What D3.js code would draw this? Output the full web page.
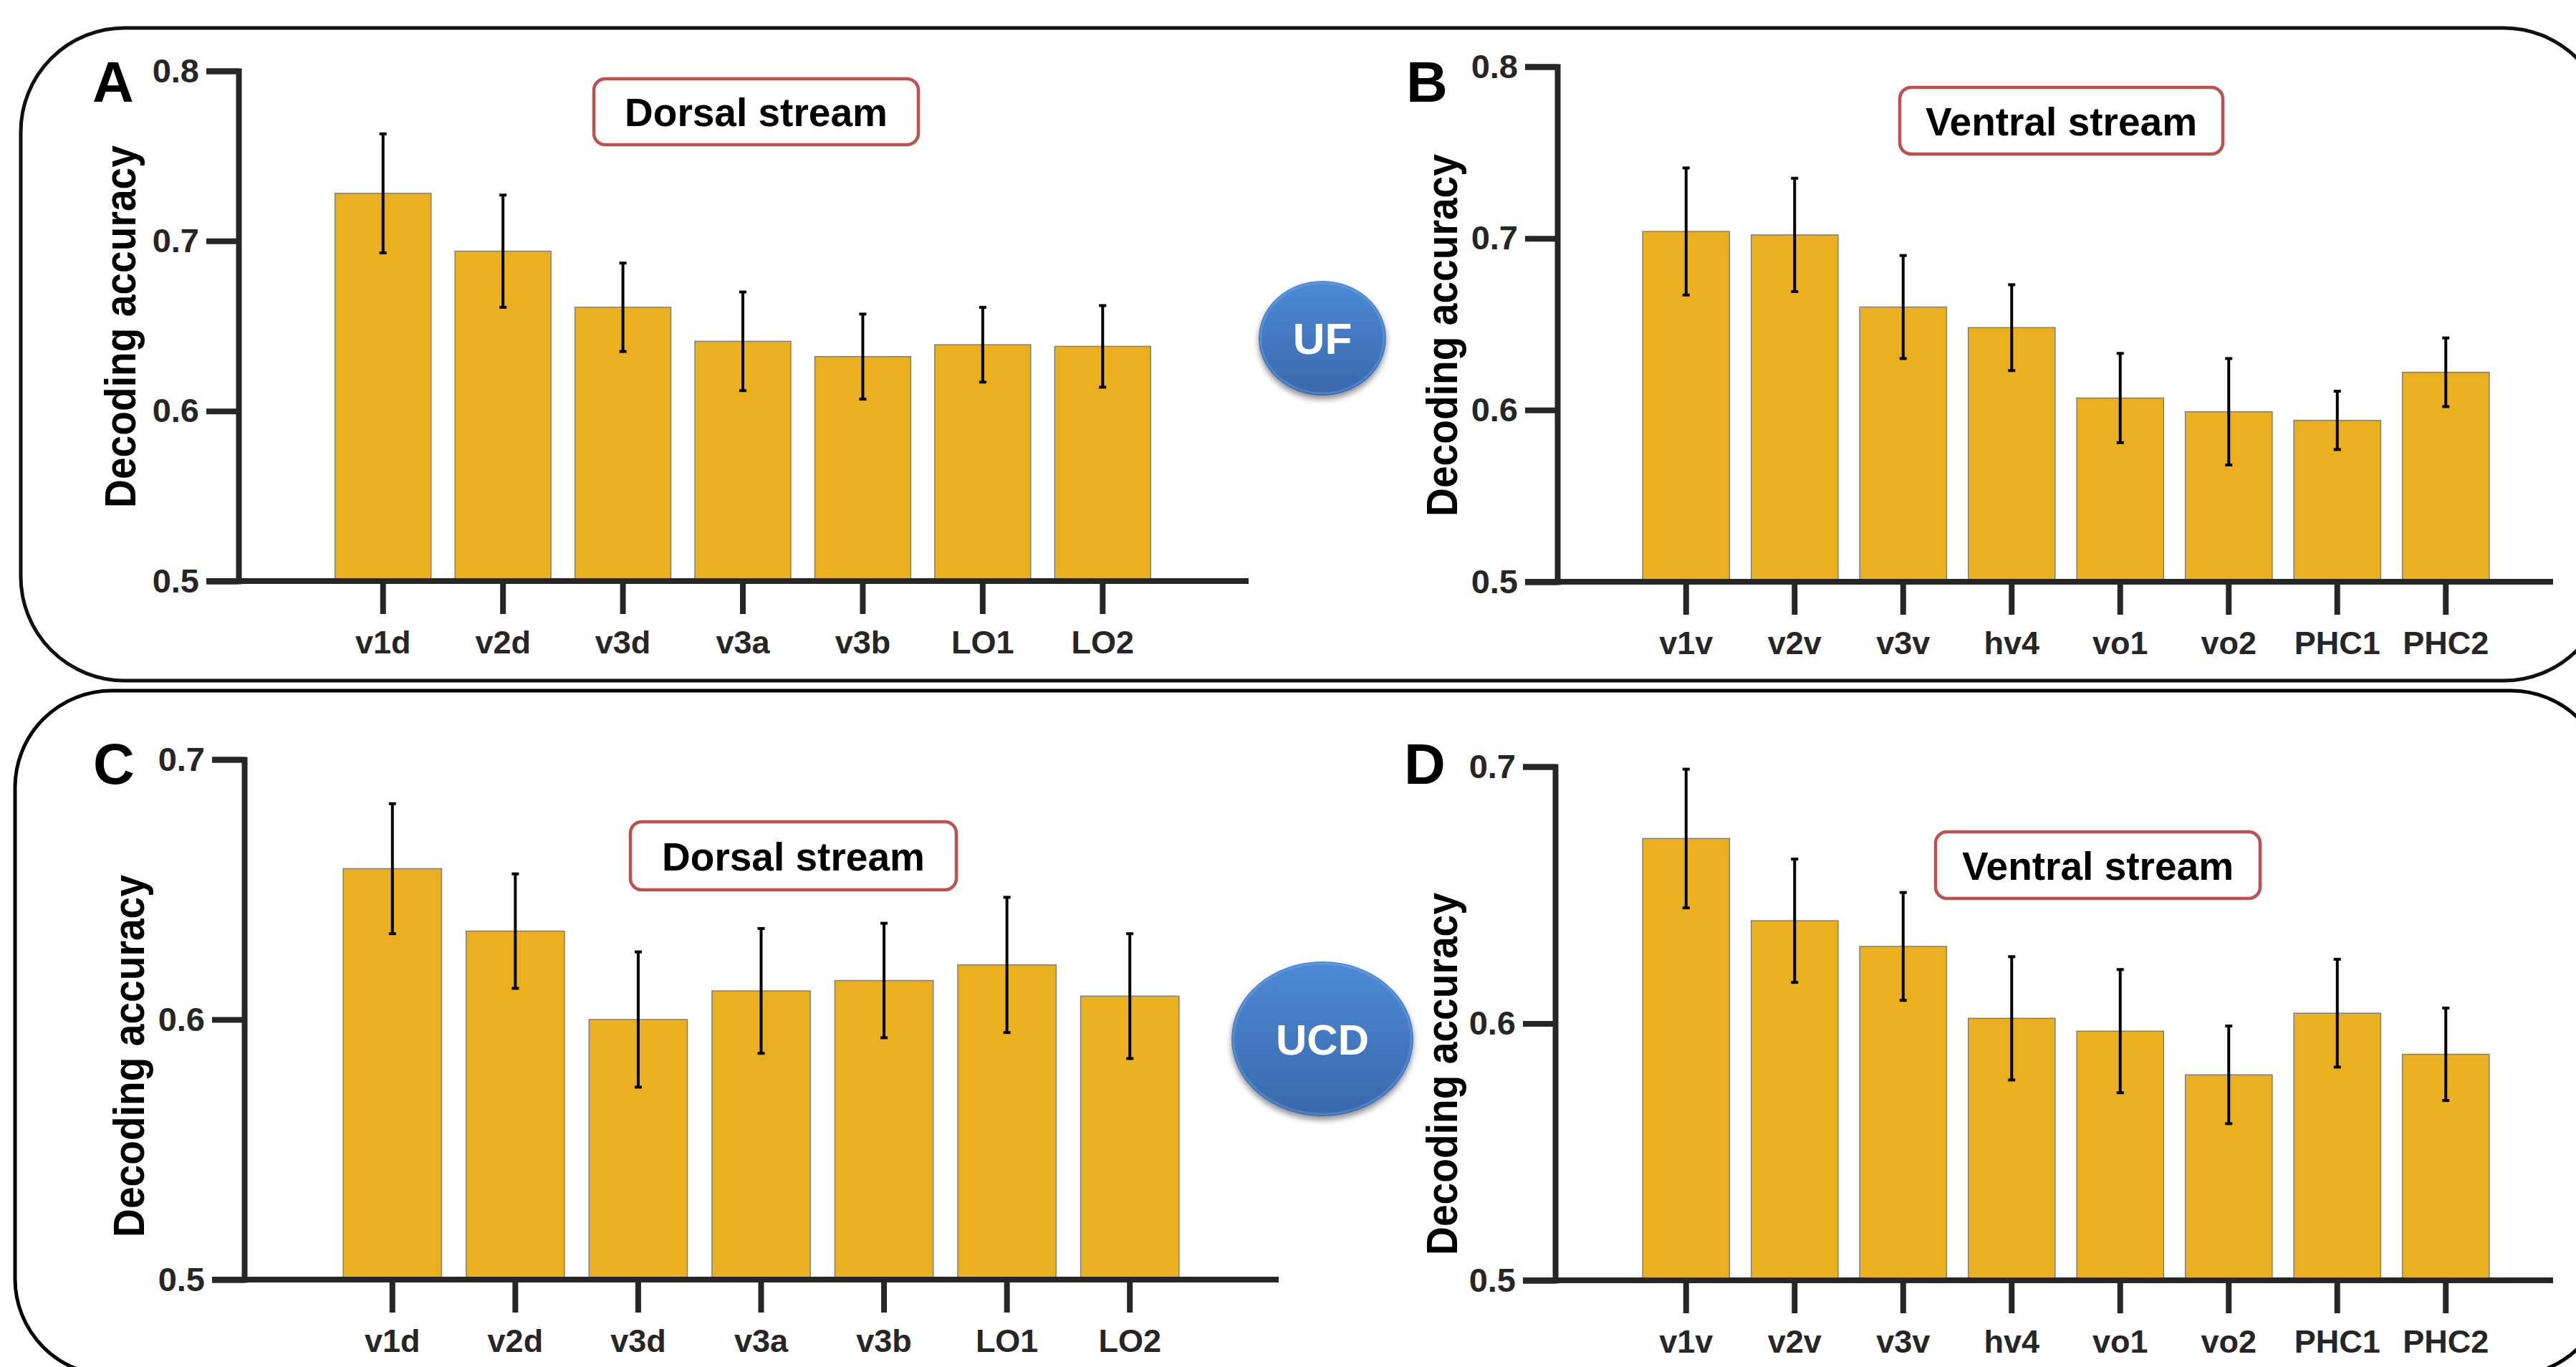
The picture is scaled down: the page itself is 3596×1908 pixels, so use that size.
<!DOCTYPE html>
<html>
<head>
    <meta charset="utf-8">
    <title></title>
    <style>
        body { margin: 0; background: #fff; }
        text { font-family: "Liberation Sans", Arial, sans-serif; font-weight: bold; }
        .tick text { fill: #262626; }
    </style>
</head>
<body>
<script src="https://cdn.jsdelivr.net/npm/d3@7/dist/d3.min.js"></script>
<script>
    var width  = 3596;
    var height = 1908;

    // regions of interest
    const dorsalRegions  = ["v1d", "v2d", "v3d", "v3a", "v3b", "LO1", "LO2"];
    const ventralRegions = ["v1v", "v2v", "v3v", "hv4", "vo1", "vo2", "PHC1", "PHC2"];

    // UF dataset
    const ufDorsalMean  = [0.728, 0.694, 0.661, 0.641, 0.632, 0.639, 0.638];
    const ufDorsalSem   = [0.035, 0.033, 0.026, 0.029, 0.025, 0.022, 0.024];
    const ufVentralMean = [0.704, 0.702, 0.660, 0.648, 0.607, 0.599, 0.594, 0.622];
    const ufVentralSem  = [0.037, 0.033, 0.030, 0.025, 0.026, 0.031, 0.017, 0.020];

    // UCD dataset
    const ucdDorsalMean  = [0.658, 0.634, 0.600, 0.611, 0.615, 0.621, 0.609];
    const ucdDorsalSem   = [0.025, 0.022, 0.026, 0.024, 0.022, 0.026, 0.024];
    const ucdVentralMean = [0.672, 0.640, 0.630, 0.602, 0.597, 0.580, 0.604, 0.588];
    const ucdVentralSem  = [0.027, 0.024, 0.021, 0.024, 0.024, 0.019, 0.021, 0.018];

    const ticksUF  = [0.5, 0.6, 0.7, 0.8];
    const ticksUCD = [0.5, 0.6, 0.7];

    var barColor = "#ebb020";
    var axisColor = "#262626";

    var svg = d3.select("body").append("svg")
        .attr("width", width)
        .attr("height", height);

    var defs = svg.append("defs");
    var grad = defs.append("linearGradient").attr("id", "blueGrad")
        .attr("x1", 0).attr("y1", 0).attr("x2", 0).attr("y2", 1);
    grad.append("stop").attr("offset", "0%").attr("stop-color", "#4d8ad6");
    grad.append("stop").attr("offset", "100%").attr("stop-color", "#3868ab");
    var shadow = defs.append("filter").attr("id", "shadow")
        .attr("x", "-20%").attr("y", "-20%").attr("width", "140%").attr("height", "150%");
    shadow.append("feGaussianBlur").attr("in", "SourceAlpha").attr("stdDeviation", 4);
    shadow.append("feOffset").attr("dx", 0).attr("dy", 5).attr("result", "blur");
    shadow.append("feComponentTransfer").append("feFuncA").attr("type", "linear").attr("slope", 0.45);
    var merge = shadow.append("feMerge");
    merge.append("feMergeNode");
    merge.append("feMergeNode").attr("in", "SourceGraphic");

    // the two rounded frames
    svg.append("rect")
        .attr("x", 29).attr("y", 39).attr("width", 3611).attr("height", 911)
        .attr("rx", 145).attr("ry", 145)
        .attr("fill", "none").attr("stroke", "#111").attr("stroke-width", 5);
    svg.append("rect")
        .attr("x", 21).attr("y", 964).attr("width", 3619).attr("height", 956)
        .attr("rx", 135).attr("ry", 135)
        .attr("fill", "none").attr("stroke", "#000").attr("stroke-width", 5);

    var panels = [
        {letter: "A", lx: 129, ly: 142, regions: dorsalRegions, mean: ufDorsalMean, sem: ufDorsalSem,
         ticks: ticksUF, axisX: 333, yTop: 99, yBot: 811, xr: [451, 1623], xEnd: 1743,
         labX: 189, labY: 456, box: [829, 110, 453, 92], title: "Dorsal stream"},
        {letter: "B", lx: 1963, ly: 142, regions: ventralRegions, mean: ufVentralMean, sem: ufVentralSem,
         ticks: ticksUF, axisX: 2174, yTop: 93, yBot: 812, xr: [2278, 3490], xEnd: 3564,
         labX: 2034, labY: 468, box: [2652, 122, 451, 93], title: "Ventral stream"},
        {letter: "C", lx: 130, ly: 1094, regions: dorsalRegions, mean: ucdDorsalMean, sem: ucdDorsalSem,
         ticks: ticksUCD, axisX: 341, yTop: 1060, yBot: 1786, xr: [462, 1663], xEnd: 1785,
         labX: 201, labY: 1474, box: [880, 1147, 455, 95], title: "Dorsal stream"},
        {letter: "D", lx: 1960, ly: 1094, regions: ventralRegions, mean: ucdVentralMean, sem: ucdVentralSem,
         ticks: ticksUCD, axisX: 2171, yTop: 1070, yBot: 1787, xr: [2278, 3490], xEnd: 3564,
         labX: 2034, labY: 1499, box: [2702, 1161, 453, 93], title: "Ventral stream"}
    ];

    panels.forEach(function(p) {
        var g = svg.append("g");
        var y = d3.scaleLinear()
            .domain([0.5, d3.max(p.ticks)])
            .range([p.yBot, p.yTop]);
        var x = d3.scaleBand()
            .domain(p.regions)
            .range(p.xr)
            .paddingInner(0.2)
            .paddingOuter(0.1);
        var rows = p.regions.map(function(r, i) {
            return {name: r, mean: p.mean[i], sem: p.sem[i]};
        });

        // bars
        g.selectAll(".bar")
            .data(rows)
            .enter()
            .append("rect")
            .attr("x", function(d) { return x(d.name); })
            .attr("y", function(d) { return y(d.mean); })
            .attr("width", x.bandwidth())
            .attr("height", function(d) { return y(0.5) - y(d.mean); })
            .attr("fill", barColor)
            .attr("stroke", "#7f7f7f")
            .attr("stroke-width", 1.5);

        // error bars
        var eb = g.selectAll(".err")
            .data(rows)
            .enter()
            .append("g")
            .attr("transform", function(d) { return "translate(" + (x(d.name) + x.bandwidth()/2) + ",0)"; });
        eb.append("line")
            .attr("y1", function(d) { return y(d.mean + d.sem); })
            .attr("y2", function(d) { return y(d.mean - d.sem); })
            .attr("stroke", "#000").attr("stroke-width", 4);
        [1, -1].forEach(function(s) {
            eb.append("line")
                .attr("x1", -5).attr("x2", 5)
                .attr("y1", function(d) { return y(d.mean + s*d.sem); })
                .attr("y2", function(d) { return y(d.mean + s*d.sem); })
                .attr("stroke", "#000").attr("stroke-width", 4);
        });

        // y axis
        var yAxis = g.append("g")
            .attr("transform", "translate(" + p.axisX + ",0)")
            .call(d3.axisLeft(y).tickValues(p.ticks).tickFormat(d3.format(".1f"))
                .tickSize(45).tickPadding(10));
        yAxis.selectAll("path, line").attr("stroke", axisColor).attr("stroke-width", 8);
        yAxis.selectAll("text").attr("font-size", 47).attr("font-family", "Liberation Sans, Arial, sans-serif");

        // x axis
        var xAxis = g.append("g")
            .attr("transform", "translate(0," + y(0.5) + ")")
            .call(d3.axisBottom(x).tickSize(46).tickPadding(23));
        xAxis.select(".domain").remove();
        xAxis.selectAll("line").attr("stroke", axisColor).attr("stroke-width", 8);
        xAxis.selectAll("text").attr("font-size", 45).attr("font-family", "Liberation Sans, Arial, sans-serif");
        g.append("line")
            .attr("x1", p.axisX - 45).attr("x2", p.xEnd)
            .attr("y1", y(0.5)).attr("y2", y(0.5))
            .attr("stroke", axisColor).attr("stroke-width", 8);

        // axis title
        g.append("text")
            .attr("transform", "translate(" + p.labX + "," + p.labY + ") rotate(-90) scale(0.89,1)")
            .attr("text-anchor", "middle")
            .attr("font-size", 62)
            .attr("fill", "#000")
            .text("Decoding accuracy");

        // panel letter
        g.append("text")
            .attr("x", p.lx).attr("y", p.ly)
            .attr("font-size", 80)
            .attr("fill", "#000")
            .text(p.letter);

        // stream box
        g.append("rect")
            .attr("x", p.box[0]).attr("y", p.box[1])
            .attr("width", p.box[2]).attr("height", p.box[3])
            .attr("rx", 16).attr("ry", 16)
            .attr("fill", "#fff").attr("stroke", "#c0504d").attr("stroke-width", 4.5);
        g.append("text")
            .attr("x", p.box[0] + p.box[2]/2)
            .attr("y", p.box[1] + p.box[3]/2 + 20)
            .attr("text-anchor", "middle")
            .attr("font-size", 55)
            .attr("fill", "#000")
            .text(p.title);
    });

    // dataset badges
    var badges = [
        {name: "UF",  cx: 1846, cy: 472,  rx: 89,  ry: 80,  fs: 62},
        {name: "UCD", cx: 1846, cy: 1450, rx: 127, ry: 108, fs: 60}
    ];
    var bg = svg.selectAll(".badge")
        .data(badges)
        .enter()
        .append("g");
    bg.append("ellipse")
        .attr("cx", function(d) { return d.cx; })
        .attr("cy", function(d) { return d.cy; })
        .attr("rx", function(d) { return d.rx; })
        .attr("ry", function(d) { return d.ry; })
        .attr("fill", "url(#blueGrad)")
        .attr("filter", "url(#shadow)");
    bg.append("ellipse")
        .attr("cx", function(d) { return d.cx; })
        .attr("cy", function(d) { return d.cy; })
        .attr("rx", function(d) { return d.rx - 3; })
        .attr("ry", function(d) { return d.ry - 3; })
        .attr("fill", "none")
        .attr("stroke", "#7fb0ea")
        .attr("stroke-opacity", 0.35)
        .attr("stroke-width", 3);
    bg.append("text")
        .attr("x", function(d) { return d.cx; })
        .attr("y", function(d) { return d.cy + d.fs * 0.36; })
        .attr("text-anchor", "middle")
        .attr("font-size", function(d) { return d.fs; })
        .attr("fill", "#fff")
        .text(function(d) { return d.name; });
</script>
</body>
</html>
